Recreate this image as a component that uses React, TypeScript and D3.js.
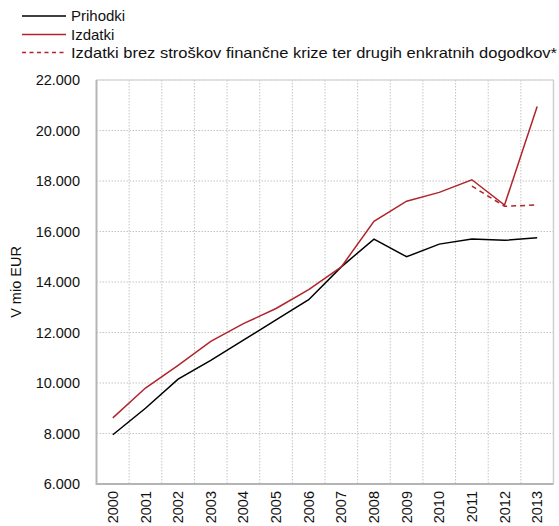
import React from "react";
import * as d3 from "d3";

const years = ["2000","2001","2002","2003","2004","2005","2006","2007","2008","2009","2010","2011","2012","2013"];
const prihodki = [7950, 9000, 10150, 10900, 11700, 12500, 13300, 14600, 15700, 15000, 15500, 15700, 15650, 15750];
const izdatki = [8620, 9800, 10700, 11650, 12350, 12950, 13700, 14600, 16400, 17200, 17550, 18050, 17050, 20950];
const izdatkiBrez: (number | null)[] = [null, null, null, null, null, null, null, null, null, null, null, 17800, 17000, 17050];
const yTicks = [6000, 8000, 10000, 12000, 14000, 16000, 18000, 20000, 22000];
const legendLabels = ["Prihodki", "Izdatki", "Izdatki brez stroškov finančne krize ter drugih enkratnih dogodkov*"];
const yTitle = "V mio EUR";

const W = 559, H = 526;
const left = 96.5, right = 553.5, top = 80, bottom = 484;
const RED = "#b0252c";
const FONT = "'Liberation Sans', Arial, sans-serif";

export default function App() {
  const x = d3.scaleBand().domain(years).range([left, right]).padding(0);
  const y = d3.scaleLinear().domain([6000, 22000]).range([bottom, top]);
  const cx = (i: number) => (x(years[i]) as number) + x.bandwidth() / 2;
  const line = d3.line<number | null>()
    .defined((d) => d !== null)
    .x((_, i) => cx(i))
    .y((d) => y(d as number));
  const fmt = (v: number) => d3.format(",")(v).replace(/,/g, ".");
  const fmtTick = (v: number) => (v >= 1000 ? fmt(v) : String(v));
  const bounds = years.slice(1).map((yr) => x(yr) as number);
  const legendY = [16, 34.5, 52.5];
  const legendStyles = [
    { stroke: "#000", dash: undefined },
    { stroke: RED, dash: undefined },
    { stroke: RED, dash: "4,3.5" },
  ];
  return (
    <svg width={W} height={H} style={{ position: "absolute", left: 0, top: 0, background: "#fff" }} fontFamily={FONT}>
      {/* grid */}
      {yTicks.filter((t) => t > 6000).map((t) => (
        <line key={"h" + t} x1={left} x2={right} y1={y(t)} y2={y(t)} stroke="#c4c4c4" strokeWidth={1} strokeDasharray="1.5,1.5" />
      ))}
      {bounds.map((b, i) => (
        <line key={"v" + i} x1={b} x2={b} y1={top} y2={bottom} stroke="#c4c4c4" strokeWidth={1} strokeDasharray="1.5,1.5" />
      ))}
      <line x1={left} x2={right} y1={top} y2={top} stroke="#cfcfcf" strokeWidth={1} />
      <line x1={right} x2={right} y1={top} y2={bottom} stroke="#cfcfcf" strokeWidth={1.5} />
      <line x1={left} x2={left} y1={top} y2={bottom + 1} stroke="#b5b5b5" strokeWidth={2} />
      <line x1={left} x2={right} y1={bottom} y2={bottom} stroke="#b5b5b5" strokeWidth={2} />
      {/* y ticks */}
      {yTicks.map((t) => (
        <text key={"yt" + t} x={80} y={y(t)} dy="0.35em" textAnchor="end" fontSize={14.5} fill="#111">{fmtTick(t)}</text>
      ))}
      <text transform={`translate(16,${(top + bottom) / 2}) rotate(-90)`} textAnchor="middle" dy="0.35em" fontSize={14.5} fill="#111">{yTitle}</text>
      {/* x ticks */}
      {years.map((yr, i) => (
        <text key={"xt" + yr} transform={`translate(${cx(i)},${491}) rotate(-90)`} textAnchor="end" dy="0.35em" fontSize={14.5} fill="#111">{yr}</text>
      ))}
      {/* lines */}
      <path d={line(prihodki) || ""} fill="none" stroke="#000" strokeWidth={1.5} />
      <path d={line(izdatki) || ""} fill="none" stroke={RED} strokeWidth={1.5} />
      <path d={line(izdatkiBrez) || ""} fill="none" stroke={RED} strokeWidth={1.5} strokeDasharray="5,4" />
      {/* legend */}
      {legendLabels.map((lab, i) => (
        <g key={"lg" + i}>
          <line x1={22} x2={66} y1={legendY[i]} y2={legendY[i]} stroke={legendStyles[i].stroke} strokeWidth={1.5} strokeDasharray={legendStyles[i].dash} />
          <text x={71} y={legendY[i]} dy="0.35em" fontSize={15} fill="#111" textLength={i === 2 ? 486 : undefined} lengthAdjust="spacingAndGlyphs">{lab}</text>
        </g>
      ))}
    </svg>
  );
}
